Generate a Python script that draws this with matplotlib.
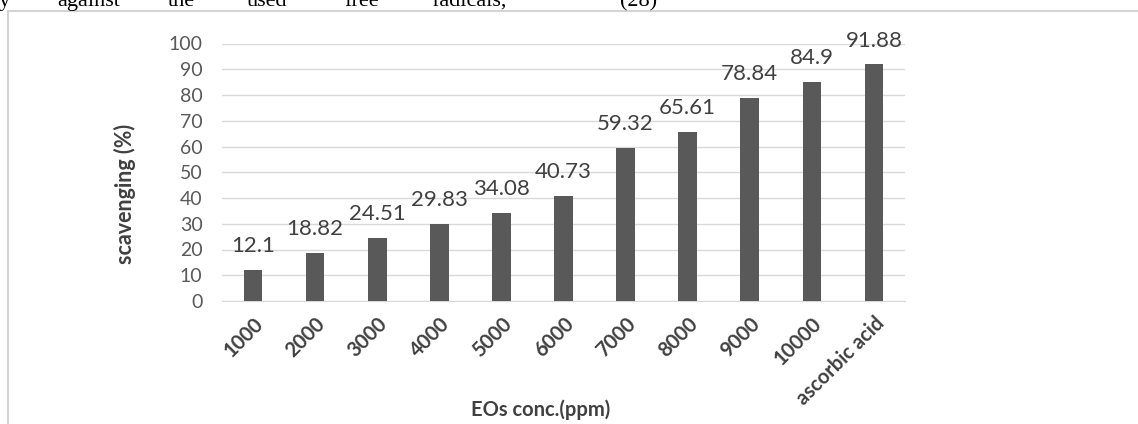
import matplotlib
matplotlib.use("Agg")
import matplotlib.pyplot as plt
from matplotlib.lines import Line2D

categories = ["1000", "2000", "3000", "4000", "5000", "6000", "7000",
              "8000", "9000", "10000", "ascorbic acid"]
values = [12.1, 18.82, 24.51, 29.83, 34.08, 40.73, 59.32, 65.61, 78.84, 84.9, 91.88]
value_labels = ["12.1", "18.82", "24.51", "29.83", "34.08", "40.73", "59.32",
                "65.61", "78.84", "84.9", "91.88"]
yticks = [0, 10, 20, 30, 40, 50, 60, 70, 80, 90, 100]
header_words = ["ty", "against", "the", "used", "free", "radicals,", "(28)"]
header_x = [-6, 57, 168, 247, 344, 433, 620]

W, H = 1138, 424
fig = plt.figure(figsize=(W / 100, H / 100), dpi=100)
plt.rcParams['font.family'] = ['Lato', 'DejaVu Sans']

# clipped paper text at the top
for w, xp in zip(header_words, header_x):
    fig.text(xp / W, 1 - 6 / H, w, fontsize=16, family='Liberation Serif',
             va='baseline', ha='left', color='black')

# light frame of the chart object
fig.add_artist(Line2D([8 / W, 8 / W], [0, 1 - 11 / H], transform=fig.transFigure,
                      color='#d4d4d4', lw=1.5))
fig.add_artist(Line2D([8 / W, 1], [1 - 11 / H, 1 - 11 / H], transform=fig.transFigure,
                      color='#d4d4d4', lw=1.5))

left, right = 222 / W, 905 / W
bottom, top = 1 - 301 / H, 1 - 43.5 / H
ax = fig.add_axes([left, bottom, right - left, top - bottom])

x = list(range(len(categories)))
bars = ax.bar(x, values, width=0.3, color='#595959', zorder=3)
ax.set_xlim(-0.5, len(categories) - 0.5)
ax.set_ylim(0, 100)
ax.set_yticks(yticks)
ax.set_yticklabels([str(t) for t in yticks], fontsize=14, color='#595959')
ax.set_xticks(x)
ax.set_xticklabels(categories, rotation=45, ha='right', rotation_mode='anchor',
                   fontsize=14.5, fontweight='bold', color='#404040')
ax.tick_params(axis='both', length=0)
ax.tick_params(axis='y', pad=14)
ax.tick_params(axis='x', pad=9)
ax.grid(axis='y', color='#d9d9d9', lw=1, zorder=0)
for s in ['top', 'right', 'left']:
    ax.spines[s].set_visible(False)
ax.spines['bottom'].set_color('#d9d9d9')

for xi, v, lab in zip(x, values, value_labels):
    ax.annotate(lab, (xi, v), xytext=(0, 10), textcoords='offset points',
                ha='center', va='bottom', fontsize=16, color='#404040')

fig.text(125 / W, 1 - 194 / H, "scavenging (%)", rotation=90, ha='center', va='center',
         fontsize=15.5, fontweight='bold', color='#404040')
fig.text(541 / W, 1 - 410 / H, "EOs conc.(ppm)", ha='center', va='center',
         fontsize=14.5, fontweight='bold', color='#404040')

fig.savefig("out.png", dpi=100)
